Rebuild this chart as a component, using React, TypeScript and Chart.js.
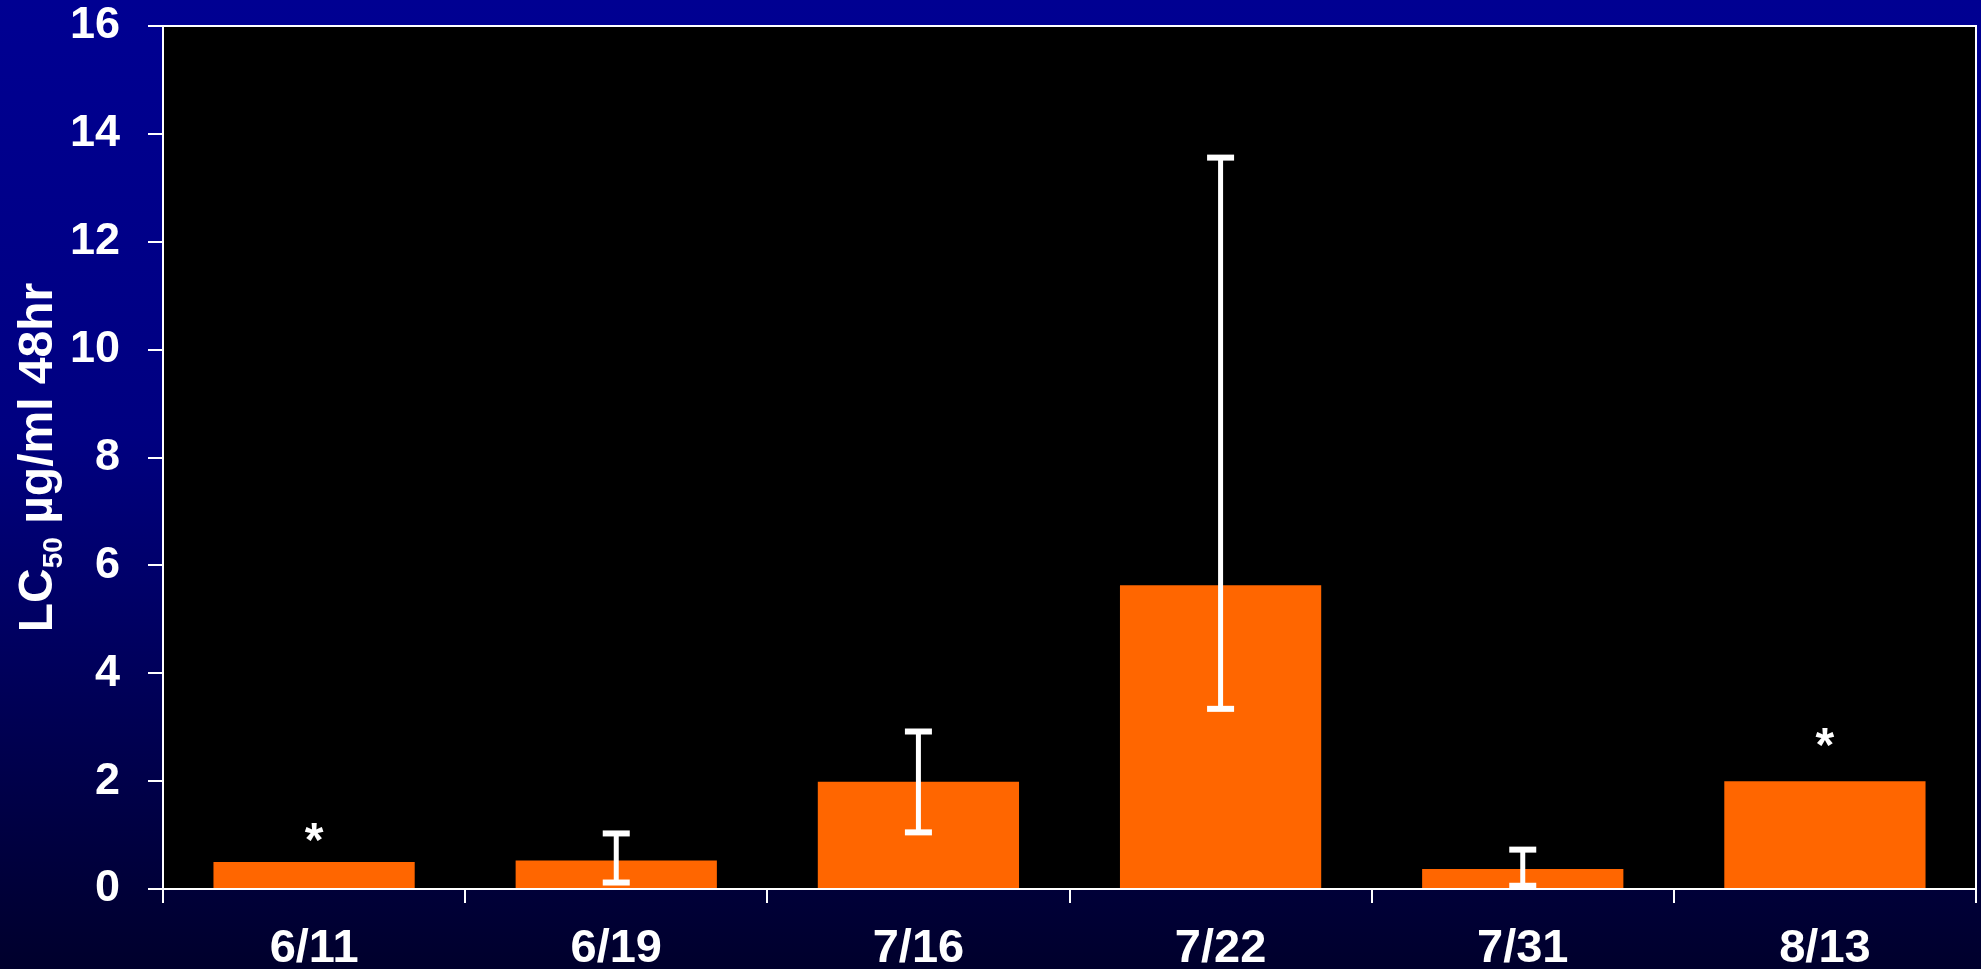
import React, { useEffect, useRef } from "react";
import { Chart, registerables } from "chart.js";

Chart.register(...registerables);

const categories = ["6/11", "6/19", "7/16", "7/22", "7/31", "8/13"];
const values = [0.5, 0.53, 1.99, 5.63, 0.37, 2.0];
const errLow: (number | null)[] = [null, 0.12, 1.05, 3.34, 0.06, null];
const errHigh: (number | null)[] = [null, 1.03, 2.92, 13.56, 0.73, null];
const asteriskAt: (number | null)[] = [1.0, null, null, null, null, 2.76];
const yTicks = [0, 2, 4, 6, 8, 10, 12, 14, 16];

const FONT = '"Liberation Sans", Arial, sans-serif';

const bgPlugin = {
  id: "bg",
  beforeDraw(chart: any) {
    const { ctx, width, height, chartArea } = chart;
    ctx.save();
    const g = ctx.createLinearGradient(0, 0, 0, height);
    g.addColorStop(0, "#000092");
    g.addColorStop(0.45, "#000080");
    g.addColorStop(1, "#00002c");
    ctx.fillStyle = g;
    ctx.fillRect(0, 0, width, height);
    ctx.fillStyle = "#000000";
    ctx.fillRect(chartArea.left, chartArea.top, chartArea.right - chartArea.left, chartArea.bottom - chartArea.top);
    ctx.restore();
  },
  afterDraw(chart: any) {
    const { ctx, chartArea } = chart;
    ctx.save();
    ctx.strokeStyle = "#ffffff";
    ctx.lineWidth = 2;
    ctx.beginPath();
    ctx.moveTo(chartArea.left - 15, chartArea.top);
    ctx.lineTo(chartArea.right, chartArea.top);
    ctx.lineTo(chartArea.right, chartArea.bottom + 14);
    ctx.stroke();
    // y-axis title with subscript
    ctx.translate(52, (chartArea.top + chartArea.bottom) / 2);
    ctx.rotate(-Math.PI / 2);
    ctx.fillStyle = "#ffffff";
    ctx.textBaseline = "alphabetic";
    const big = `bold 48px ${FONT}`;
    const small = `bold 28px ${FONT}`;
    const parts = [
      { t: "LC", f: big, dy: 0 },
      { t: "50", f: small, dy: 10 },
      { t: " µg/ml 48hr", f: big, dy: 0 },
    ];
    let total = 0;
    for (const p of parts) {
      ctx.font = p.f;
      total += ctx.measureText(p.t).width;
    }
    let x = -total / 2;
    ctx.textAlign = "left";
    for (const p of parts) {
      ctx.font = p.f;
      ctx.fillText(p.t, x, p.dy);
      x += ctx.measureText(p.t).width;
    }
    ctx.restore();
  },
};

const errPlugin = {
  id: "errbars",
  afterDatasetsDraw(chart: any) {
    const { ctx } = chart;
    const meta = chart.getDatasetMeta(0);
    const yScale = chart.scales.y;
    ctx.save();
    ctx.fillStyle = "#ffffff";
    ctx.strokeStyle = "#ffffff";
    meta.data.forEach((bar: any, i: number) => {
      const lo = errLow[i];
      const hi = errHigh[i];
      if (lo != null && hi != null) {
        const yl = yScale.getPixelForValue(lo);
        const yh = yScale.getPixelForValue(hi);
        ctx.lineWidth = 5;
        ctx.beginPath();
        ctx.moveTo(bar.x, yl);
        ctx.lineTo(bar.x, yh);
        ctx.stroke();
        ctx.fillRect(bar.x - 13.5, yh - 3, 27, 6);
        ctx.fillRect(bar.x - 13.5, yl - 3, 27, 6);
      }
      const a = asteriskAt[i];
      if (a != null) {
        const ya = yScale.getPixelForValue(a);
        ctx.font = `bold 48px ${FONT}`;
        ctx.textAlign = "center";
        ctx.textBaseline = "alphabetic";
        ctx.fillText("*", bar.x, ya + 21);
      }
    });
    ctx.restore();
  },
};

export default function App() {
  const ref = useRef<HTMLCanvasElement | null>(null);
  useEffect(() => {
    document.body.style.margin = "0";
    const canvas = ref.current;
    if (!canvas) return;
    const chart = new Chart(canvas, {
      type: "bar",
      data: {
        labels: categories,
        datasets: [
          {
            data: values,
            backgroundColor: "#FF6600",
            borderWidth: 0,
            barPercentage: 0.666,
            categoryPercentage: 1,
          },
        ],
      },
      options: {
        animation: false,
        responsive: false,
        maintainAspectRatio: false,
        layout: { padding: { top: 26, right: 5, left: 0, bottom: 0 } },
        plugins: { legend: { display: false }, tooltip: { enabled: false } },
        scales: {
          x: {
            type: "category",
            offset: true,
            grid: {
              display: true,
              offset: true,
              drawOnChartArea: false,
              drawTicks: true,
              tickLength: 14,
              color: "#ffffff",
              lineWidth: 2,
            },
            border: { display: true, color: "#ffffff", width: 2 },
            ticks: {
              color: "#ffffff",
              font: { family: FONT, size: 47, weight: "bold" },
              padding: 18,
              maxRotation: 0,
            },
            afterFit(scale: any) {
              scale.height = 80;
              scale.paddingLeft = 0;
              scale.paddingRight = 0;
            },
          },
          y: {
            min: 0,
            max: 16,
            afterBuildTicks(scale: any) {
              scale.ticks = yTicks.map((v) => ({ value: v }));
            },
            grid: {
              display: true,
              drawOnChartArea: false,
              drawTicks: true,
              tickLength: 15,
              color: "#ffffff",
              lineWidth: 2,
            },
            border: { display: true, color: "#ffffff", width: 2 },
            ticks: {
              color: "#ffffff",
              font: { family: FONT, size: 45, weight: "bold" },
              padding: 28,
            },
            afterFit(scale: any) {
              scale.width = 163;
              scale.paddingTop = 0;
              scale.paddingBottom = 0;
            },
          },
        },
      },
      plugins: [bgPlugin, errPlugin],
    });
    return () => chart.destroy();
  }, []);
  return (
    <div style={{ position: "fixed", left: 0, top: 0, width: 1981, height: 969 }}>
      <canvas ref={ref} width={1981} height={969} style={{ display: "block" }} />
    </div>
  );
}
